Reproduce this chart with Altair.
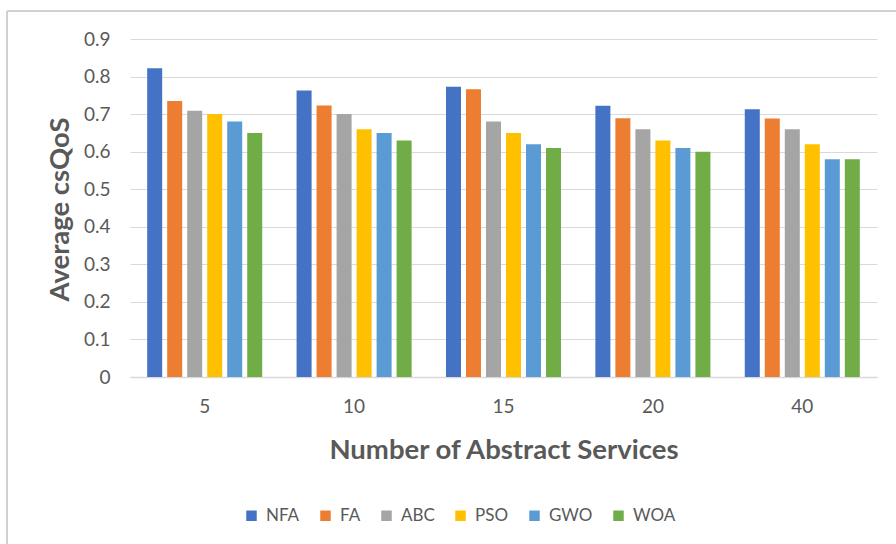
import altair as alt
import pandas as pd

# Average csQoS per algorithm for each number of abstract services
services = ["5", "10", "15", "20", "40"]
algorithms = ["NFA", "FA", "ABC", "PSO", "GWO", "WOA"]
colors = ["#4472C4", "#ED7D31", "#A5A5A5", "#FFC000", "#5B9BD5", "#70AD47"]

nfa = [0.822, 0.763, 0.773, 0.722, 0.713]
fa = [0.735, 0.723, 0.766, 0.689, 0.688]
abc = [0.709, 0.70, 0.68, 0.66, 0.66]
pso = [0.70, 0.66, 0.65, 0.63, 0.62]
gwo = [0.68, 0.65, 0.62, 0.61, 0.58]
woa = [0.65, 0.63, 0.61, 0.60, 0.58]
y_ticks = [0, 0.1, 0.2, 0.3, 0.4, 0.5, 0.6, 0.7, 0.8, 0.9]

series = dict(zip(algorithms, [nfa, fa, abc, pso, gwo, woa]))
rows = [
    {"services": s, "algorithm": a, "value": series[a][i]}
    for a in algorithms
    for i, s in enumerate(services)
]
df = pd.DataFrame(rows)

FONT = "Lato"
TEXT = "#595959"
GRID = "#D9D9D9"

bars = alt.Chart(df).mark_bar().encode(
    x=alt.X(
        "services:N",
        sort=services,
        scale=alt.Scale(paddingInner=0.23, paddingOuter=0.115),
        axis=alt.Axis(
            title="Number of Abstract Services",
            labelAngle=0,
            labelFontSize=19,
            labelColor=TEXT,
            labelPadding=20,
            ticks=False,
            domain=True,
            domainColor=GRID,
            domainWidth=1.5,
            titleFontSize=27.5,
            titleFontWeight="bold",
            titleColor=TEXT,
            titleY=81,
            titleBaseline="alphabetic",
        ),
    ),
    xOffset=alt.XOffset(
        "algorithm:N",
        sort=algorithms,
        scale=alt.Scale(paddingInner=0.25, paddingOuter=0),
    ),
    y=alt.Y(
        "value:Q",
        scale=alt.Scale(domain=[0, 0.9], nice=False),
        axis=alt.Axis(
            title="Average csQoS",
            values=y_ticks,
            labelExpr="datum.value == 0 ? '0' : format(datum.value, '.1f')",
            labelOverlap=False,
            labelFontSize=19,
            labelColor=TEXT,
            labelPadding=20,
            ticks=False,
            domain=False,
            gridColor=GRID,
            gridWidth=1.2,
            titleFontSize=27.5,
            titleFontWeight="bold",
            titleColor=TEXT,
            titleAngle=-90,
            titleX=-62,
            titleY=170,
            titleBaseline="alphabetic",
            titleAlign="center",
        ),
    ),
    color=alt.Color(
        "algorithm:N",
        sort=algorithms,
        scale=alt.Scale(domain=algorithms, range=colors),
        legend=alt.Legend(
            title=None,
            orient="none",
            direction="horizontal",
            legendX=113,
            legendY=468,
            symbolType="square",
            symbolSize=110,
            symbolStrokeWidth=0,
            labelFontSize=17,
            labelColor=TEXT,
            labelOffset=6,
            columnPadding=17,
        ),
    ),
)

# Light frame along the top and left edges of the chart area
frame_top = alt.Chart(df).mark_rule(color="#D0D0D0", strokeWidth=1).encode(
    x=alt.value(-123), x2=alt.value(766), y=alt.value(-28)
)
frame_left = alt.Chart(df).mark_rule(color="#D0D0D0", strokeWidth=1).encode(
    x=alt.value(-123), y=alt.value(-28), y2=alt.value(505)
)

chart = (
    alt.layer(bars, frame_top, frame_left)
    .properties(
        width=747,
        height=338,
        autosize=alt.AutoSizeParams(type="none"),
        padding={"left": 130, "top": 39, "right": 19, "bottom": 167},
        background="white",
    )
    .configure(font=FONT)
    .configure_view(stroke=None)
)

chart.save("out.html", embed_options={"renderer": "svg", "actions": False})
